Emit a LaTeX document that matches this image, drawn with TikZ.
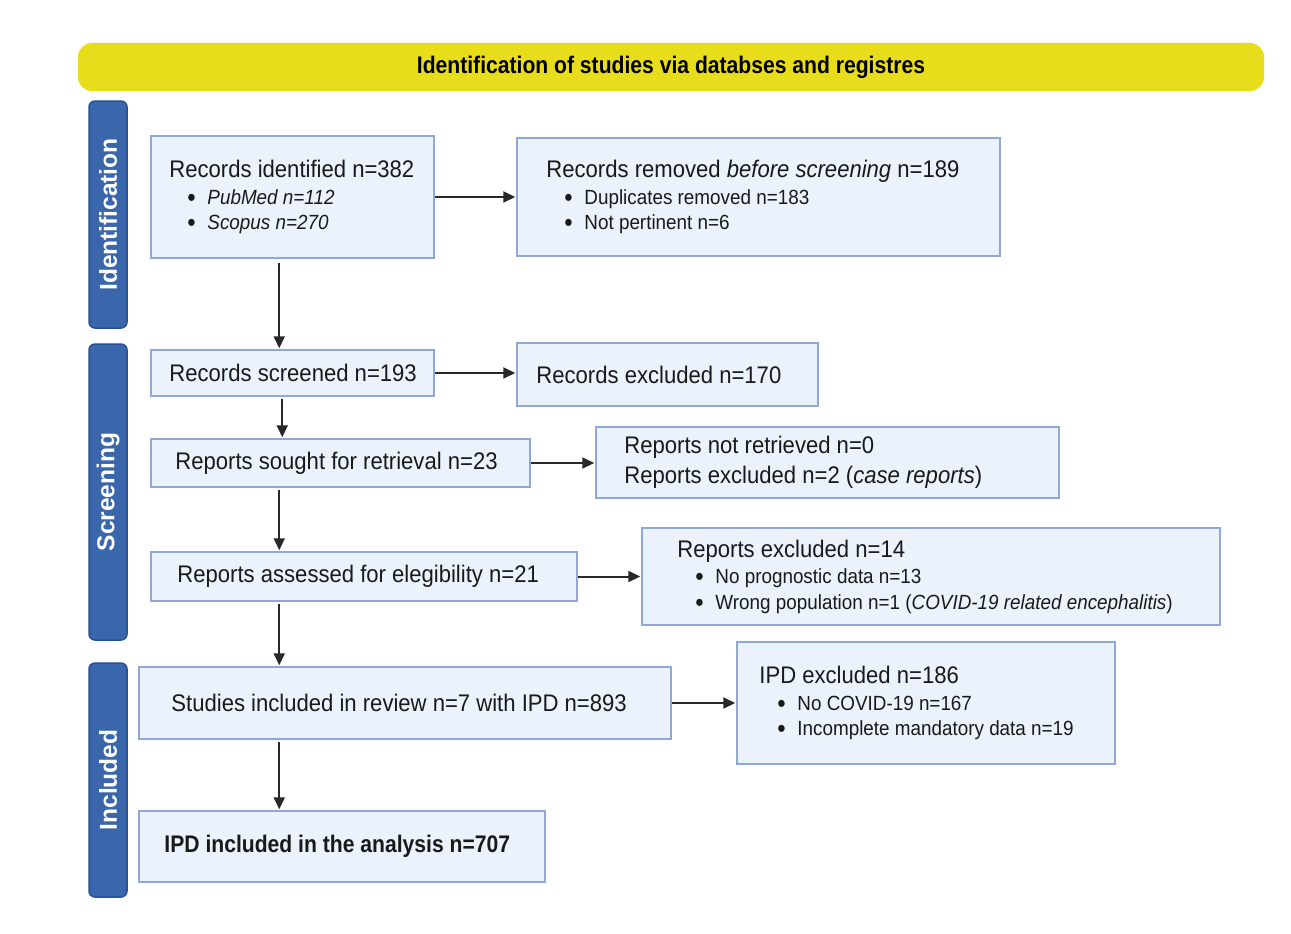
\documentclass[tikz,border=0pt]{standalone}
\usepackage{fontspec}
\setmainfont[FakeStretch=0.92]{Liberation Sans}
\newfontfamily\titlefont[FakeStretch=0.88]{Liberation Sans}
\newfontfamily\sidefont{Liberation Sans}
\usetikzlibrary{arrows.meta}
\definecolor{boxfill}{RGB}{235,242,252}
\definecolor{boxline}{RGB}{143,168,214}
\definecolor{barblue}{RGB}{58,102,171}
\definecolor{barline}{RGB}{36,80,148}
\definecolor{bannery}{RGB}{232,221,27}
\definecolor{arrowc}{RGB}{40,40,40}
\newcommand{\hd}[1]{{\fontsize{24}{28}\selectfont #1}}
\newcommand{\bul}[1]{\hspace*{18pt}\makebox[20pt][l]{\raisebox{-2pt}{\fontsize{26}{20}\selectfont •}}#1}
\tikzset{
  flowbox/.style={draw=boxline, fill=boxfill, line width=1.5pt, inner sep=0pt},
  txt/.style={anchor=west, inner sep=0pt, align=left, text=black!90, font=\fontsize{20.5}{25.5}\selectfont},
  bigtxt/.style={txt, font=\fontsize{24}{30}\selectfont},
  sidebar/.style={draw=barline, fill=barblue, line width=1.5pt, rounded corners=6pt, rotate=90,
     minimum height=38pt, inner sep=0pt, text=white, font=\sidefont\bfseries\fontsize{24.5}{26}\selectfont},
  conn/.style={draw=arrowc, line width=2pt, -{Triangle[length=12pt,width=11pt]}, shorten >=1pt}
}
\begin{document}
\begin{tikzpicture}[x=1pt,y=-1pt]
\useasboundingbox (0,0) rectangle (1291,934);
\fill[white] (0,0) rectangle (1291,934);
% banner
\node[fill=bannery, rounded corners=14pt, minimum width=1186pt, minimum height=48pt, inner sep=0pt,
  font=\titlefont\bfseries\fontsize{24}{26}\selectfont] (banner) at (671,67)
  {Identification of studies via databses and registres};
% side bars
\node[sidebar, minimum width=227pt] (s1) at (108,214.5) {Identification};
\node[sidebar, minimum width=296pt] (s2) at (108,492) {Screening};
\node[sidebar, minimum width=234pt] (s3) at (108,780) {Included};
% boxes
\node[flowbox, minimum width=283pt, minimum height=122pt] (b1) at (292.5,197) {};
\node[flowbox, minimum width=483pt, minimum height=118pt] (b2) at (758.5,197) {};
\node[flowbox, minimum width=283pt, minimum height=46pt] (b3) at (292.5,373) {};
\node[flowbox, minimum width=301pt, minimum height=63pt] (b4) at (667.5,374.5) {};
\node[flowbox, minimum width=379pt, minimum height=48pt] (b5) at (340.5,463) {};
\node[flowbox, minimum width=463pt, minimum height=71pt] (b6) at (827.5,462.5) {};
\node[flowbox, minimum width=426pt, minimum height=49pt] (b7) at (364,576.5) {};
\node[flowbox, minimum width=578pt, minimum height=97pt] (b8) at (931,576.5) {};
\node[flowbox, minimum width=532pt, minimum height=72pt] (b9) at (405,703) {};
\node[flowbox, minimum width=378pt, minimum height=122pt] (b10) at (926,703) {};
\node[flowbox, minimum width=406pt, minimum height=71pt] (b11) at (342,846.5) {};
% texts
\node[txt] (t1) at ([xshift=19pt]b1.west) {\hd{Records identified n=382}\\[1pt]
  \bul{\textit{PubMed n=112}}\\ \bul{\textit{Scopus n=270}}};
\node[txt] (t2) at ([xshift=30pt]b2.west) {\hd{Records removed \textit{before screening} n=189}\\[1pt]
  \bul{Duplicates removed n=183}\\ \bul{Not pertinent n=6}};
\node[bigtxt] (t3) at ([xshift=19pt]b3.west) {Records screened n=193};
\node[bigtxt] (t4) at ([xshift=20pt]b4.west) {Records excluded n=170};
\node[bigtxt] (t5) at ([xshift=25pt]b5.west) {Reports sought for retrieval n=23};
\node[bigtxt] (t6) at ([xshift=29pt]b6.west) {Reports not retrieved n=0\\ Reports excluded n=2 (\textit{case reports})};
\node[bigtxt] (t7) at ([xshift=27pt]b7.west) {Reports assessed for elegibility n=21};
\node[txt] (t8) at ([xshift=36pt]b8.west) {\hd{Reports excluded n=14}\\[1pt]
  \bul{No prognostic data n=13}\\ \bul{Wrong population n=1 (\textit{COVID-19 related encephalitis})}};
\node[bigtxt] (t9) at ([xshift=33pt]b9.west) {Studies included in review n=7 with IPD n=893};
\node[txt] (t10) at ([xshift=23pt]b10.west) {\hd{IPD excluded n=186}\\[1pt]
  \bul{No COVID-19 n=167}\\ \bul{Incomplete mandatory data n=19}};
\node[bigtxt, font=\titlefont\bfseries\fontsize{24}{30}\selectfont] (t11) at ([xshift=26pt]b11.west) {IPD included in the analysis n=707};
% connectors
\draw[conn] (b1.east) -- (b2.west);
\draw[conn] (b3.east) -- (b3.east -| b4.west);
\draw[conn] (b5.east) -- (b5.east -| b6.west);
\draw[conn] (b7.east) -- (b7.east -| b8.west);
\draw[conn] (b9.east) -- (b9.east -| b10.west);
\draw[conn] ([xshift=129pt,yshift=-4pt]b1.south west) -- ([xshift=129pt]b3.north west);
\draw[conn] ([xshift=132pt,yshift=-2pt]b3.south west) -- ([xshift=132pt]b5.north west);
\draw[conn] ([xshift=129pt,yshift=-2pt]b5.south west) -- ([xshift=129pt]b7.north west);
\draw[conn] ([xshift=129pt,yshift=-2pt]b7.south west) -- ([xshift=141pt]b9.north west);
\draw[conn] ([xshift=141pt,yshift=-2pt]b9.south west) -- ([xshift=141pt]b11.north west);
\end{tikzpicture}
\end{document}
